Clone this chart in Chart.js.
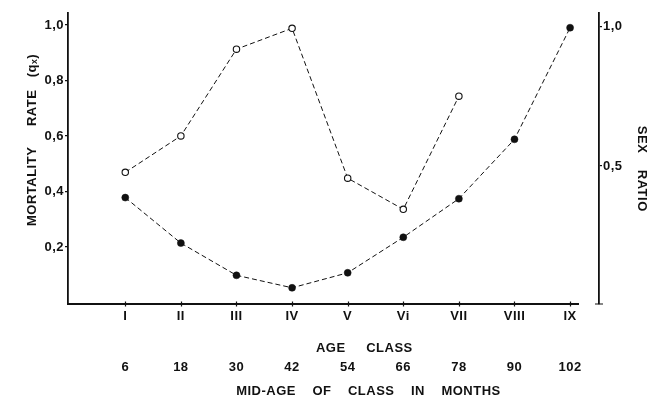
<!DOCTYPE html>
<html>
<head>
<meta charset="utf-8">
<script src="https://cdn.jsdelivr.net/npm/chart.js@4.4.0/dist/chart.umd.min.js"></script>
<style>
html, body { margin: 0; background: #fff; }
#wrap { width: 650px; height: 402px; }
</style>
</head>
<body>
<div id="wrap"><canvas id="chart"></canvas></div>
<script>
var ageClass = ['I', 'II', 'III', 'IV', 'V', 'Vi', 'VII', 'VIII', 'IX'];
var midAge = ['6', '18', '30', '42', '54', '66', '78', '90', '102'];
var mortality = [0.378, 0.214, 0.098, 0.053, 0.107, 0.235, 0.374, 0.588, 0.990];
var sexRatio = [0.477, 0.608, 0.920, 0.995, 0.456, 0.344, 0.751];
var mortTicks = [0.2, 0.4, 0.6, 0.8, 1.0];
var ratioTicks = [0.5, 1.0];

var ink = '#111';
var xAxisEnd = 9.16;

Chart.defaults.font.family = '"Liberation Sans", Arial, sans-serif';
Chart.defaults.font.size = 13;
Chart.defaults.font.weight = 'bold';
Chart.defaults.color = ink;

function comma(v) {
    return v.toFixed(1).replace('.', ',');
}

var spacing = {
    id: 'spacing',
    beforeUpdate: function(chart) { chart.ctx.letterSpacing = '0.5px'; },
    beforeDraw: function(chart) { chart.ctx.letterSpacing = '0.5px'; }
};

// x axis line stops short of the right axis, ticks cross the line
var axes = {
    id: 'axes',
    afterDraw: function(chart) {
        var ctx = chart.ctx, a = chart.chartArea, x = chart.scales.x;
        ctx.save();
        ctx.strokeStyle = ink;
        ctx.lineWidth = 1.8;
        ctx.beginPath();
        ctx.moveTo(a.left - 1, a.bottom);
        ctx.lineTo(x.getPixelForValue(xAxisEnd), a.bottom);
        ctx.stroke();
        ctx.lineWidth = 1.2;
        ctx.beginPath();
        x.ticks.forEach(function(t) {
            var px = Math.round(x.getPixelForValue(t.value)) + 0.5;
            ctx.moveTo(px, a.bottom - 2.5);
            ctx.lineTo(px, a.bottom + 2.5);
        });
        ctx.moveTo(a.right - 4, a.bottom);
        ctx.lineTo(a.right + 4, a.bottom);
        ctx.stroke();
        ctx.restore();
    }
};

function pts(arr) {
    return arr.map(function(v, i) { return {x: i + 1, y: v}; });
}

var config = {
    type: 'line',
    data: {
        datasets: [{
            label: 'Mortality rate',
            data: pts(mortality),
            yAxisID: 'y',
            borderColor: ink,
            borderWidth: 1,
            borderDash: [5, 3],
            pointRadius: 3.5,
            pointBackgroundColor: ink,
            pointBorderColor: ink,
            pointBorderWidth: 0.5,
            tension: 0
        }, {
            label: 'Sex ratio',
            data: pts(sexRatio),
            yAxisID: 'y2',
            borderColor: ink,
            borderWidth: 1,
            borderDash: [5, 3],
            pointRadius: 3.2,
            pointBackgroundColor: '#fff',
            pointBorderColor: ink,
            pointBorderWidth: 1.1,
            tension: 0
        }]
    },
    options: {
        responsive: true,
        maintainAspectRatio: false,
        animation: false,
        devicePixelRatio: 1,
        layout: { padding: { top: 13, left: 0, right: 0, bottom: 0 } },
        plugins: { legend: { display: false }, tooltip: { enabled: false } },
        scales: {
            x: {
                type: 'linear', position: 'bottom', weight: 0,
                min: -0.03, max: 9.52,
                afterBuildTicks: function(s) { s.ticks = ageClass.map(function(c, i) { return {value: i + 1}; }); },
                ticks: { padding: 4.2, autoSkip: false, maxRotation: 0,
                    callback: function(v, i) { return ageClass[i]; } },
                grid: { display: false, drawTicks: false },
                border: { display: false },
                title: { display: true, text: '               AGE     CLASS', padding: { top: 0, bottom: 0 } },
                afterFit: function(s) { s.height = 52; }
            },
            x2: {
                type: 'linear', position: 'bottom', weight: 1,
                min: -0.03, max: 9.52,
                afterBuildTicks: function(s) { s.ticks = midAge.map(function(c, i) { return {value: i + 1}; }); },
                ticks: { padding: 3.2, autoSkip: false, maxRotation: 0,
                    callback: function(v, i) { return midAge[i]; } },
                grid: { display: false, drawTicks: false },
                border: { display: false },
                title: { display: true, text: '                 MID-AGE    OF    CLASS    IN    MONTHS', padding: { top: 0, bottom: 3 } },
                afterFit: function(s) { s.height = 46; }
            },
            y: {
                type: 'linear', position: 'left',
                min: -0.0054, max: 1.043,
                afterBuildTicks: function(s) { s.ticks = mortTicks.map(function(v) { return {value: v}; }); },
                ticks: { padding: 1, callback: function(v) { return comma(v); } },
                grid: { drawOnChartArea: false, drawTicks: true, tickLength: 3, color: ink, lineWidth: 1.2 },
                border: { display: true, color: ink, width: 1.8 },
                title: { display: true, text: '         MORTALITY     RATE   (q\u2093)', padding: { top: 25 } },
                afterFit: function(s) { s.width = 68; }
            },
            y2: {
                type: 'linear', position: 'right',
                min: 0.0036, max: 1.05,
                afterBuildTicks: function(s) { s.ticks = ratioTicks.map(function(v) { return {value: v}; }); },
                ticks: { padding: 1, callback: function(v) { return comma(v); } },
                grid: { drawOnChartArea: false, drawTicks: true, tickLength: 3, color: ink, lineWidth: 1.2 },
                border: { display: true, color: ink, width: 1.8 },
                title: { display: true, text: '     SEX    RATIO', padding: { top: 1 } },
                afterFit: function(s) { s.width = 51; }
            }
        }
    },
    plugins: [spacing, axes]
};

var chart = new Chart(document.getElementById('chart').getContext('2d'), config);
</script>
</body>
</html>
